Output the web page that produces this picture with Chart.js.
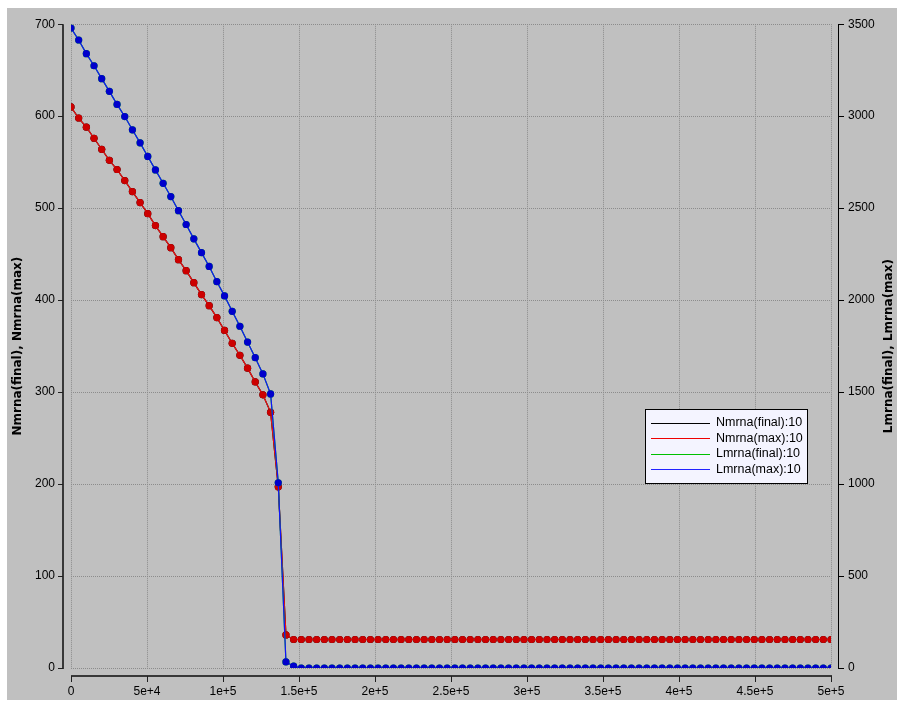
<!DOCTYPE html>
<html lang="en">
<head>
  <meta charset="UTF-8">
  <title>Nmrna / Lmrna</title>
  <script src="https://cdn.jsdelivr.net/npm/chart.js"></script>
  <style>
    html, body { margin: 0; padding: 0; background: #ffffff; }
    #plot { display: block; }
  </style>
</head>
<body>
<canvas id="plot" width="897" height="703"></canvas>

<script>
// sample positions along x (100 points, 0 .. 5e5)
const xValues = [
  0, 5051, 10101, 15152, 20202, 25253, 30303, 35354, 40404, 45455,
  50505, 55556, 60606, 65657, 70707, 75758, 80808, 85859, 90909, 95960,
  101010, 106061, 111111, 116162, 121212, 126263, 131313, 136364, 141414, 146465,
  151515, 156566, 161616, 166667, 171717, 176768, 181818, 186869, 191919, 196970,
  202020, 207071, 212121, 217172, 222222, 227273, 232323, 237374, 242424, 247475,
  252525, 257576, 262626, 267677, 272727, 277778, 282828, 287879, 292929, 297980,
  303030, 308081, 313131, 318182, 323232, 328283, 333333, 338384, 343434, 348485,
  353535, 358586, 363636, 368687, 373737, 378788, 383838, 388889, 393939, 398990,
  404040, 409091, 414141, 419192, 424242, 429293, 434343, 439394, 444444, 449495,
  454545, 459596, 464646, 469697, 474747, 479798, 484848, 489899, 494949, 500000
];

// left axis series
const nmrnaMax = [
  610, 598, 588, 576, 564, 552, 542, 530, 518, 506,
  494, 481, 469, 457, 444, 432, 419, 406, 394, 381,
  367, 353, 340, 326, 311, 297, 278, 197, 36, 31,
  31, 31, 31, 31, 31, 31, 31, 31, 31, 31,
  31, 31, 31, 31, 31, 31, 31, 31, 31, 31,
  31, 31, 31, 31, 31, 31, 31, 31, 31, 31,
  31, 31, 31, 31, 31, 31, 31, 31, 31, 31,
  31, 31, 31, 31, 31, 31, 31, 31, 31, 31,
  31, 31, 31, 31, 31, 31, 31, 31, 31, 31,
  31, 31, 31, 31, 31, 31, 31, 31, 31, 31
];
const nmrnaFinal = nmrnaMax; // sits exactly under the red curve

// right axis series
const lmrnaMax = [
  3479, 3414, 3340, 3274, 3204, 3135, 3064, 2998, 2926, 2855,
  2781, 2708, 2635, 2563, 2486, 2411, 2333, 2258, 2183, 2100,
  2023, 1939, 1858, 1772, 1687, 1599, 1490, 1007, 33, 10,
  0, 0, 0, 0, 0, 0, 0, 0, 0, 0,
  0, 0, 0, 0, 0, 0, 0, 0, 0, 0,
  0, 0, 0, 0, 0, 0, 0, 0, 0, 0,
  0, 0, 0, 0, 0, 0, 0, 0, 0, 0,
  0, 0, 0, 0, 0, 0, 0, 0, 0, 0,
  0, 0, 0, 0, 0, 0, 0, 0, 0, 0,
  0, 0, 0, 0, 0, 0, 0, 0, 0, 0
];
const lmrnaFinal = lmrnaMax; // sits exactly under the blue curve

const xTickLabels = ['0', '5e+4', '1e+5', '1.5e+5', '2e+5', '2.5e+5', '3e+5', '3.5e+5', '4e+5', '4.5e+5', '5e+5'];
const leftTickLabels = ['0', '100', '200', '300', '400', '500', '600', '700'];
const rightTickLabels = ['0', '500', '1000', '1500', '2000', '2500', '3000', '3500'];
const seriesLabels = ['Nmrna(final):10', 'Nmrna(max):10', 'Lmrna(final):10', 'Lmrna(max):10'];
const pointColors = ['#000000', '#cc0000', '#00c000', '#0000cc'];
const lineColors = ['#000000', '#ee1111', '#00c000', '#1111ff'];
const legendLineColors = ['#000000', '#ee0000', '#00c000', '#2222ff'];

const tickFont = { family: '"Liberation Sans", Arial, sans-serif', size: 12 };

function series(i, ys, axis, order) {
  return {
    label: seriesLabels[i],
    data: xValues.map((x, k) => ({ x: x, y: ys[k] })),
    yAxisID: axis,
    order: order,
    borderColor: lineColors[i],
    backgroundColor: pointColors[i],
    pointBackgroundColor: pointColors[i],
    borderWidth: 1.2,
    pointRadius: 3.6,
    pointBorderWidth: 0,
    tension: 0
  };
}

// grey panel behind everything
const background = {
  id: 'background',
  beforeDraw(chart) {
    const ctx = chart.ctx;
    ctx.save();
    ctx.fillStyle = '#ffffff';
    ctx.fillRect(0, 0, chart.width, chart.height);
    ctx.fillStyle = '#c0c0c0';
    ctx.fillRect(7, 8, chart.width - 7, 692);
    ctx.restore();
  }
};

// detached axis lines, tick marks, axis titles and the boxed legend
const decorations = {
  id: 'decorations',
  afterDraw(chart) {
    const ctx = chart.ctx;
    const area = chart.chartArea;
    const sx = chart.scales.x, yl = chart.scales.yL, yr = chart.scales.yR;
    const al = p => Math.round(p - 0.5) + 0.5;
    ctx.save();

    // left axis
    ctx.fillStyle = '#383838';
    ctx.fillRect(62, area.top, 2, area.bottom - area.top + 1);
    ctx.strokeStyle = '#202020';
    ctx.lineWidth = 1;
    ctx.beginPath();
    yl.ticks.forEach(t => {
      const y = al(yl.getPixelForValue(t.value));
      ctx.moveTo(58, y); ctx.lineTo(63, y);
    });
    ctx.stroke();

    // bottom axis
    ctx.fillRect(area.left, 675, area.right - area.left + 1, 2);
    ctx.beginPath();
    sx.ticks.forEach(t => {
      const x = al(sx.getPixelForValue(t.value));
      ctx.moveTo(x, 676); ctx.lineTo(x, 682);
    });
    ctx.stroke();

    // right axis
    ctx.strokeStyle = '#000000';
    ctx.beginPath();
    ctx.moveTo(838.5, area.top); ctx.lineTo(838.5, area.bottom + 1);
    yr.ticks.forEach(t => {
      const y = al(yr.getPixelForValue(t.value));
      ctx.moveTo(838, y); ctx.lineTo(844, y);
    });
    ctx.stroke();

    // axis titles
    ctx.fillStyle = '#000000';
    ctx.font = 'bold 12px "DejaVu Sans", sans-serif';
    ctx.textAlign = 'center';
    ctx.textBaseline = 'middle';
    const midY = (area.top + area.bottom) / 2;
    [[18, 'Nmrna(final), Nmrna(max)'], [889, 'Lmrna(final), Lmrna(max)']].forEach(([x, text]) => {
      ctx.save();
      ctx.translate(x, midY);
      ctx.rotate(-Math.PI / 2);
      ctx.fillText(text, 0, 0);
      ctx.restore();
    });

    // legend
    const bx = 645.5, by = 409.5, bw = 162, bh = 74;
    ctx.fillStyle = '#f4f4ff';
    ctx.fillRect(bx, by, bw, bh);
    ctx.strokeStyle = '#000000';
    ctx.lineWidth = 1;
    ctx.strokeRect(bx, by, bw, bh);
    ctx.font = '12.5px "Liberation Sans", Arial, sans-serif';
    ctx.textAlign = 'left';
    seriesLabels.forEach((label, i) => {
      const y = 422.5 + i * 15.5;
      ctx.strokeStyle = legendLineColors[i];
      ctx.beginPath();
      ctx.moveTo(651, Math.round(y) + 0.5);
      ctx.lineTo(710, Math.round(y) + 0.5);
      ctx.stroke();
      ctx.fillStyle = '#000000';
      ctx.fillText(label, 716, y + 0.5);
    });
    ctx.restore();
  }
};

const gridStyle = { color: '#8c8c8c', lineWidth: 1, drawTicks: false };
const borderStyle = { display: false, dash: [1, 1] };

new Chart(document.getElementById('plot'), {
  type: 'line',
  data: {
    datasets: [
      series(0, nmrnaFinal, 'yL', 3),
      series(1, nmrnaMax, 'yL', 2),
      series(2, lmrnaFinal, 'yR', 1),
      series(3, lmrnaMax, 'yR', 0)
    ]
  },
  options: {
    responsive: false,
    devicePixelRatio: 1,
    animation: false,
    events: [],
    layout: { padding: { top: 18, left: 0, right: 0, bottom: 0 } },
    plugins: { legend: { display: false }, tooltip: { enabled: false } },
    scales: {
      x: {
        type: 'linear', min: 0, max: 500000,
        grid: gridStyle, border: borderStyle,
        ticks: {
          stepSize: 50000, autoSkip: false, maxRotation: 0, padding: 16,
          color: '#000000', font: tickFont,
          callback: (v, i) => xTickLabels[i]
        },
        afterFit: s => { s.height = 35; }
      },
      yL: {
        position: 'left', min: 0, max: 700,
        grid: gridStyle, border: borderStyle,
        ticks: {
          stepSize: 100, padding: 16, color: '#000000', font: tickFont,
          callback: (v, i) => leftTickLabels[i]
        },
        afterFit: s => { s.width = 71; }
      },
      yR: {
        position: 'right', min: 0, max: 3500,
        grid: { display: false, drawTicks: false }, border: { display: false },
        ticks: {
          stepSize: 500, padding: 17, color: '#000000', font: tickFont,
          callback: (v, i) => rightTickLabels[i]
        },
        afterFit: s => { s.width = 66; }
      }
    }
  },
  plugins: [background, decorations]
});
</script>
</body>
</html>
